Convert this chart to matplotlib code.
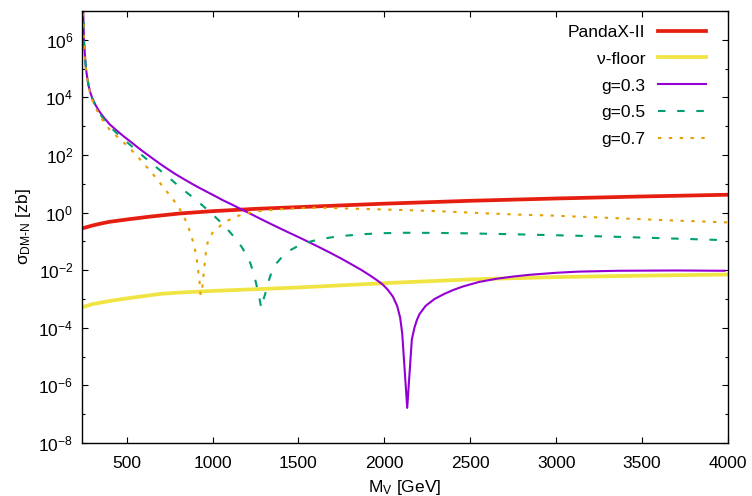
import numpy as np
import matplotlib
matplotlib.use("Agg")
import matplotlib.pyplot as plt
from matplotlib.ticker import FixedLocator, FuncFormatter

plt.rcParams['font.family'] = ['Liberation Sans', 'DejaVu Sans']
plt.rcParams['mathtext.fontset'] = 'custom'
plt.rcParams['mathtext.rm'] = 'Liberation Sans'
plt.rcParams['mathtext.it'] = 'Liberation Sans:italic'
plt.rcParams['mathtext.default'] = 'regular'

# data (y values given as log10 exponents)
pandax_x = [240, 270, 300, 350, 400, 450, 500, 635, 810, 1000, 1250, 1500, 2000, 2500, 3000, 3500, 4000]
pandax_log = [-0.55, -0.50, -0.45, -0.38, -0.32, -0.28, -0.24, -0.14, -0.03, 0.05, 0.13, 0.19, 0.31, 0.41, 0.49,
              0.56, 0.62]

floor_x = [240, 300, 400, 500, 600, 700, 800, 1000, 1500, 2000, 2500, 3000, 3500, 4000]
floor_log = [-3.29, -3.18, -3.07, -2.98, -2.90, -2.82, -2.78, -2.72, -2.60, -2.45, -2.32, -2.24, -2.19, -2.15]

g03_x = [246, 251, 257, 263, 270, 280, 290, 300, 320, 340, 370, 400, 440, 480, 536, 580, 635,
         690, 732, 780, 828, 880, 926, 1000, 1060, 1119, 1159, 1230, 1300, 1400, 1507, 1600,
         1683, 1750, 1798, 1860, 1916, 1960, 1991, 2020, 2050, 2075, 2092, 2104, 2133, 2160,
         2175, 2190, 2205, 2240, 2292, 2350, 2400, 2455, 2550, 2650, 2750, 2845, 3000, 3128,
         3360, 3700, 3980]
g03_log = [7.3, 6.0, 5.45, 5.0, 4.70, 4.36, 4.14, 3.97, 3.72, 3.52, 3.28, 3.07, 2.86, 2.66, 2.40, 2.19, 1.95,
           1.71, 1.54, 1.35, 1.18, 1.00, 0.85, 0.62, 0.43, 0.26, 0.14, -0.07, -0.28, -0.57, -0.87, -1.14,
           -1.39, -1.60, -1.76, -1.97, -2.18, -2.36, -2.50, -2.68, -2.92, -3.25, -3.65, -4.20, -6.78, -4.40,
           -4.00, -3.72, -3.52, -3.24, -3.00, -2.82, -2.69, -2.57, -2.41, -2.30, -2.22, -2.16, -2.09, -2.05,
           -2.02, -2.01, -2.02]

g05_x = [246, 251, 257, 263, 270, 280, 290, 300, 320, 340, 370, 400, 440, 480, 536, 580, 635,
         690, 722, 770, 819, 870, 916, 960, 1003, 1050, 1090, 1130, 1168, 1200, 1220, 1240, 1255,
         1270, 1284, 1297, 1310, 1325, 1343, 1375, 1410, 1460, 1507, 1560, 1613, 1680, 1740, 1874,
         1990, 2106, 2300, 2484, 2728, 2845, 3094, 3348, 3594, 3838, 4000]
g05_log = [7.3, 6.0, 5.45, 5.0, 4.69, 4.34, 4.12, 3.95, 3.68, 3.47, 3.21, 3.00, 2.77, 2.56, 2.27, 2.04, 1.76,
           1.49, 1.33, 1.09, 0.84, 0.60, 0.38, 0.15, -0.08, -0.35, -0.60, -0.88, -1.18, -1.50, -1.76, -2.12, -2.50,
           -2.90, -3.32, -3.00, -2.75, -2.40, -2.08, -1.74, -1.50, -1.28, -1.13, -1.02, -0.94, -0.87, -0.82, -0.75,
           -0.715, -0.70, -0.705, -0.72, -0.75, -0.765, -0.80, -0.84, -0.885, -0.93, -0.96]

g07_x = [246, 251, 257, 263, 270, 280, 290, 300, 320, 340, 370, 400, 440, 478, 517, 555, 596,
         635, 674, 712, 751, 790, 819, 848, 868, 887, 901, 910, 917, 925, 930, 936, 941, 951, 962,
         974, 1000, 1032, 1081, 1139, 1197, 1255, 1372, 1488, 1604, 1682, 1800, 1914, 2040, 2160,
         2281, 2408, 2534, 2650, 2776, 2960, 3087, 3211, 3338, 3455, 3581, 3703, 3823, 3945, 4000]
g07_log = [7.3, 6.0, 5.45, 4.99, 4.68, 4.32, 4.09, 3.91, 3.63, 3.40, 3.12, 2.89, 2.66, 2.46, 2.24, 2.00, 1.73,
           1.46, 1.18, 0.89, 0.60, 0.30, 0.02, -0.33, -0.66, -1.02, -1.38, -1.72, -2.06, -2.45, -2.86, -2.75,
           -2.55, -1.95, -1.35, -0.95, -0.70, -0.52, -0.30, -0.13, -0.03, 0.04, 0.11, 0.15, 0.17, 0.165, 0.14,
           0.12, 0.10, 0.08, 0.055, 0.025, -0.01, -0.04, -0.07, -0.10, -0.13, -0.16, -0.19, -0.22, -0.25, -0.28,
           -0.30, -0.33, -0.34]

x_ticks = [500, 1000, 1500, 2000, 2500, 3000, 3500, 4000]
y_major = [-8, -6, -4, -2, 0, 2, 4, 6]
y_minor = [-7, -5, -3, -1, 1, 3, 5, 7]

fig = plt.figure(figsize=(7.52, 4.96), dpi=100)
ax = fig.add_axes([0.1086, 0.1069, 0.8594, 0.8709])


def pw(a):
    return 10.0 ** np.array(a)


ax.plot(pandax_x, pw(pandax_log), color='#e51e10', lw=2.7, label='PandaX-II')
ax.plot(floor_x, pw(floor_log), color='#f0e442', lw=2.7, label='ν-floor')
ax.plot(g03_x, pw(g03_log), color='#9400d3', lw=1.5, label='g=0.3')
ax.plot(g05_x, pw(g05_log), color='#009e73', lw=1.5, dashes=(3.6, 5.6), label='g=0.5')
ax.plot(g07_x, pw(g07_log), color='#e69f00', lw=1.5, dashes=(1.6, 3.6), label='g=0.7')

ax.set_yscale('log')
ax.set_xlim(238, 4000)
ax.set_ylim(1e-8, 1e7)
ax.xaxis.set_major_locator(FixedLocator(x_ticks))
ax.yaxis.set_major_locator(FixedLocator(pw(y_major)))
ax.yaxis.set_minor_locator(FixedLocator(pw(y_minor)))
ax.yaxis.set_major_formatter(FuncFormatter(lambda v, p: r'$10^{%d}$' % round(np.log10(v))))
ax.yaxis.set_minor_formatter(FuncFormatter(lambda v, p: ''))

ax.tick_params(which='both', direction='in', top=True, right=True, labelsize=12.5, width=0.8)
ax.tick_params(which='major', length=4.5)
ax.tick_params(which='minor', length=2.5)
ax.tick_params(axis='x', which='major', pad=9.5)
ax.tick_params(axis='y', which='major', pad=6)
for s in ax.spines.values():
    s.set_linewidth(1.0)

ax.set_xlabel('M$_{V}$ [GeV]', fontsize=12.5, labelpad=5)
ax.set_ylabel(r'σ$_{DM\text{-}N}$ [zb]', fontsize=12.5, labelpad=4)

leg = ax.legend(loc='upper right', bbox_to_anchor=(0.977, 0.985), frameon=False, markerfirst=False,
                fontsize=12.5, handlelength=2.8, handletextpad=0.7, labelspacing=0.68,
                borderaxespad=0.0)
for t in leg.get_texts():
    t.set_ha('right')

fig.savefig('out.png', dpi=100)
